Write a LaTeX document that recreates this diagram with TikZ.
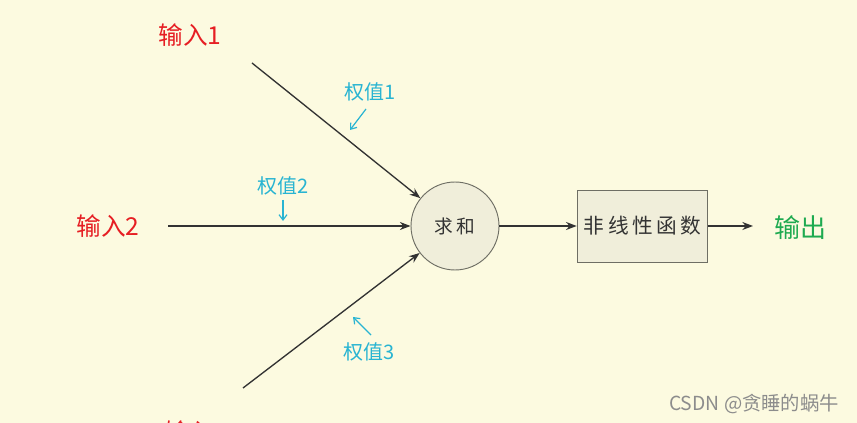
\documentclass[tikz,border=0pt]{standalone}
\usepackage{fontspec}
\setmainfont{Liberation Sans}
\newfontfamily\cjk{Noto Sans CJK SC}
\usetikzlibrary{arrows.meta}
\definecolor{bg}{RGB}{252,250,224}
\definecolor{inred}{RGB}{230,30,35}
\definecolor{outgreen}{RGB}{30,170,80}
\definecolor{wcyan}{RGB}{40,180,210}
\definecolor{shapefill}{RGB}{240,238,218}
\definecolor{shapedraw}{RGB}{110,110,100}
\definecolor{linec}{RGB}{50,50,50}
\tikzset{
  inlabel/.style={text=inred, font=\cjk\fontsize{18.5}{22}\selectfont, inner sep=0pt},
  outlabel/.style={text=outgreen, font=\cjk\fontsize{19.5}{23}\selectfont, inner sep=0pt},
  wlabel/.style={text=wcyan, font=\cjk\fontsize{15}{18}\selectfont, inner sep=0pt},
  conn/.style={draw=linec, line width=1pt, -{Stealth[length=8pt,width=6pt]}},
  wmark/.style={draw=wcyan, line width=0.9pt, -{Straight Barb[length=4pt,width=6pt]}},
  sumnode/.style={circle, draw=shapedraw, fill=shapefill, line width=0.7pt, minimum size=66pt, inner sep=0pt, font=\cjk\fontsize{14}{16}\selectfont, text=black!80},
  funcnode/.style={rectangle, draw=shapedraw, fill=shapefill, line width=0.7pt, minimum width=98pt, minimum height=54pt, inner sep=0pt, font=\cjk\fontsize{15.5}{18}\selectfont, text=black!80},
}
\begin{document}
\begin{tikzpicture}[x=0.75pt,y=-0.75pt]
\fill[bg] (0,0) rectangle (857,423);
\useasboundingbox (0,0) rectangle (857,423);
\begin{scope}
\clip (0,0) rectangle (857,423);
\node[inlabel] (in1) at (190,35) {输入1};
\node[inlabel] (in2) at (108,226) {输入2};
\node[inlabel] (in3) at (196,432) {输入3};
\end{scope}
\node[outlabel] (out) at (800,228) {输出};
\node[sumnode] (sum) at (455,226) {求\,和};
\node[funcnode] (func) at (642.5,226) {非\,线\,性\,函\,数};
\coordinate (s1) at (252,63);
\coordinate (s2) at (168,226);
\coordinate (s3) at (243,388);
\coordinate (e3) at (753,226);
\draw[conn] (s1) -- (sum);
\draw[conn] (s2) -- (sum);
\draw[conn] (s3) -- (sum);
\draw[conn] (sum) -- (func);
\draw[conn] (func) -- (e3);
\node[wlabel] (w1) at (370,92) {权值1};
\node[wlabel] (w2) at (283,186) {权值2};
\node[wlabel] (w3) at (369,352) {权值3};
\coordinate (w1a) at (366,109);
\coordinate (w1b) at (350,130);
\coordinate (w2a) at (283,200);
\coordinate (w2b) at (283,221);
\coordinate (w3a) at (371,335);
\coordinate (w3b) at (353,317);
\draw[wmark] (w1a) -- (w1b);
\draw[wmark] (w2a) -- (w2b);
\draw[wmark] (w3a) -- (w3b);
\node[text=black!45, font=\cjk\fontsize{14.5}{17}\selectfont, inner sep=0pt] (wm) at (754,404) {CSDN @贪睡的蜗牛};
\end{tikzpicture}
\end{document}
